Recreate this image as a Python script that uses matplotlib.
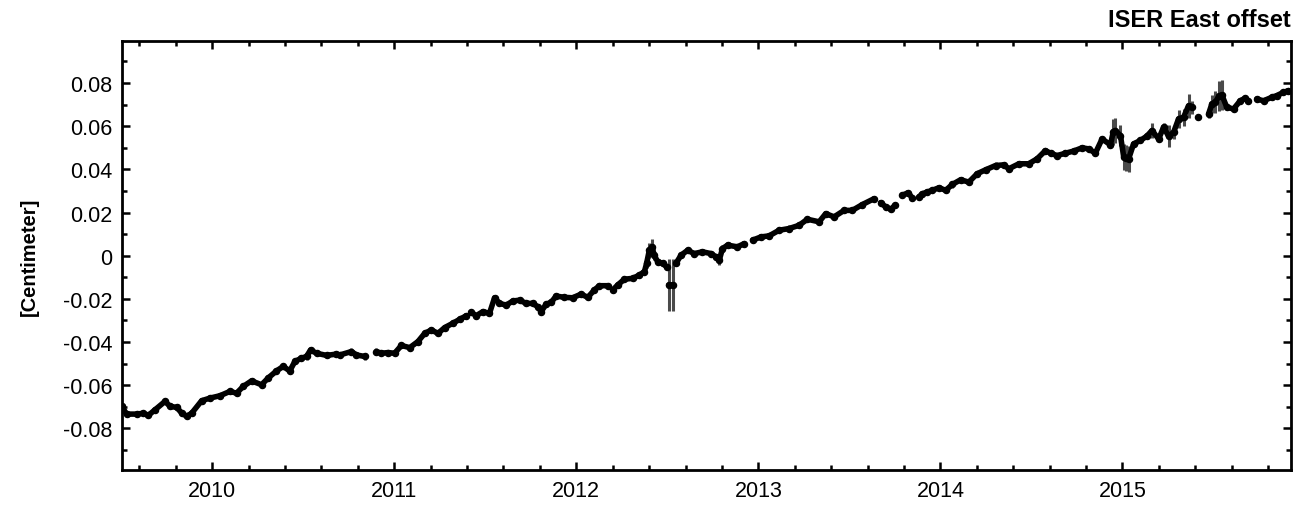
import numpy as np
import matplotlib
matplotlib.use("Agg")
import matplotlib.pyplot as plt
from matplotlib.ticker import FixedLocator, MultipleLocator

plt.rcParams['font.family'] = ['Liberation Sans', 'DejaVu Sans']
plt.rcParams['axes.unicode_minus'] = False

# ---- data (decimal year, offset, error) ----
years = [
    2009.503, 2009.530, 2009.585, 2009.622, 2009.649, 2009.686, 2009.741, 2009.768, 2009.805, 2009.832,
    2009.860, 2009.887, 2009.942, 2009.987, 2010.042, 2010.097, 2010.134, 2010.170, 2010.216, 2010.271,
    2010.307, 2010.353, 2010.390, 2010.426, 2010.454, 2010.490, 2010.518, 2010.540, 2010.573, 2010.628,
    2010.682, 2010.701, 2010.765, 2010.792, 2010.838,
    2010.902, 2010.929, 2010.965, 2011.002, 2011.039, 2011.085, 2011.130, 2011.167, 2011.204, 2011.240,
    2011.277, 2011.322, 2011.359, 2011.396,
    2011.423, 2011.450, 2011.487, 2011.523, 2011.551, 2011.578, 2011.615, 2011.651, 2011.688, 2011.725,
    2011.761, 2011.788, 2011.807, 2011.834, 2011.862, 2011.889, 2011.935, 2011.980, 2012.026, 2012.063,
    2012.099, 2012.127, 2012.172,
    2012.200, 2012.227, 2012.264, 2012.309, 2012.346, 2012.374, 2012.386, 2012.401, 2012.416, 2012.428,
    2012.447, 2012.474, 2012.496,
    2012.507, 2012.533,
    2012.547, 2012.575, 2012.611, 2012.648, 2012.693, 2012.739, 2012.767, 2012.785, 2012.803, 2012.831,
    2012.885, 2012.922,
    2012.968, 2013.014, 2013.059, 2013.114, 2013.169, 2013.224, 2013.269, 2013.334, 2013.370, 2013.416,
    2013.471, 2013.516, 2013.571, 2013.635,
    2013.672, 2013.699, 2013.727, 2013.750,
    2013.790, 2013.823, 2013.845,
    2013.882, 2013.900, 2013.928, 2013.955, 2013.992, 2014.029, 2014.065, 2014.111, 2014.156, 2014.202,
    2014.248, 2014.303, 2014.348, 2014.376, 2014.431, 2014.485, 2014.531, 2014.577, 2014.605, 2014.641,
    2014.687, 2014.732, 2014.778, 2014.815, 2014.851, 2014.888, 2014.934, 2014.950, 2014.961, 2014.989,
    2015.007, 2015.020, 2015.034, 2015.061, 2015.098, 2015.134, 2015.162, 2015.199, 2015.226, 2015.253,
    2015.281, 2015.308, 2015.336, 2015.363, 2015.381,
    2015.414,
    2015.473, 2015.491, 2015.510, 2015.530, 2015.546, 2015.573, 2015.610, 2015.647, 2015.674, 2015.692,
    2015.738, 2015.775, 2015.820, 2015.848, 2015.884, 2015.912,
]

offsets = [
    -0.0698, -0.0734, -0.0734, -0.0730, -0.0740, -0.0714, -0.0675, -0.0698, -0.0703, -0.0729,
    -0.0744, -0.0730, -0.0672, -0.0660, -0.0649, -0.0629, -0.0637, -0.0606, -0.0580, -0.0598,
    -0.0567, -0.0534, -0.0513, -0.0534, -0.0490, -0.0475, -0.0467, -0.0437, -0.0452, -0.0462,
    -0.0456, -0.0460, -0.0444, -0.0460, -0.0467,
    -0.0444, -0.0452, -0.0449, -0.0452, -0.0416, -0.0426, -0.0398, -0.0360, -0.0344, -0.0360,
    -0.0333, -0.0313, -0.0295, -0.0278,
    -0.0262, -0.0278, -0.0259, -0.0267, -0.0195, -0.0221, -0.0229, -0.0210, -0.0206, -0.0221,
    -0.0221, -0.0236, -0.0259, -0.0225, -0.0216, -0.0187, -0.0193, -0.0195, -0.0178, -0.0193,
    -0.0159, -0.0139, -0.0139,
    -0.0159, -0.0136, -0.0109, -0.0105, -0.0090, -0.0074, -0.0036, 0.0025, 0.0041, 0.0002,
    -0.0028, -0.0036, -0.0051,
    -0.0136, -0.0136,
    -0.0036, 0.0002, 0.0025, 0.0010, 0.0018, 0.0010, -0.0005, -0.0021, 0.0033, 0.0049,
    0.0041, 0.0056,
    0.0072, 0.0087, 0.0092, 0.0118, 0.0126, 0.0141, 0.0169, 0.0157, 0.0195, 0.0180,
    0.0210, 0.0210, 0.0237, 0.0264,
    0.0246, 0.0226, 0.0215, 0.0233,
    0.0280, 0.0292, 0.0268,
    0.0272, 0.0287, 0.0295, 0.0303, 0.0315, 0.0303, 0.0330, 0.0352, 0.0341, 0.0380,
    0.0398, 0.0418, 0.0421, 0.0403, 0.0426, 0.0426, 0.0449, 0.0487, 0.0475, 0.0464,
    0.0475, 0.0485, 0.0500, 0.0495, 0.0475, 0.0541, 0.0514, 0.0575, 0.0580, 0.0557,
    0.0457, 0.0452, 0.0449, 0.0518, 0.0534, 0.0554, 0.0580, 0.0541, 0.0596, 0.0554,
    0.0572, 0.0634, 0.0642, 0.0695, 0.0688,
    0.0642,
    0.0657, 0.0703, 0.0711, 0.0740, 0.0745, 0.0688, 0.0680, 0.0718, 0.0730, 0.0718,
    0.0726, 0.0718, 0.0734, 0.0742, 0.0757, 0.0765,
]

# typical uncertainty, and the larger ones
base_error = 0.0014
large_errors = {
    2012.386: 0.0020, 2012.401: 0.0035, 2012.416: 0.0035, 2012.428: 0.0020,
    2012.507: 0.0122, 2012.533: 0.0120,
    2012.785: 0.0023, 2012.803: 0.0015,
    2014.950: 0.0060, 2014.961: 0.0060, 2014.989: 0.0050,
    2015.007: 0.0060, 2015.020: 0.0060, 2015.034: 0.0060,
    2015.162: 0.0035, 2015.226: 0.0020, 2015.253: 0.0050, 2015.281: 0.0030,
    2015.308: 0.0040, 2015.336: 0.0040, 2015.363: 0.0055, 2015.381: 0.0030,
    2015.473: 0.0020, 2015.491: 0.0040, 2015.510: 0.0050, 2015.530: 0.0070,
    2015.546: 0.0070,
}

# first epochs after a data gap
segment_starts = [2010.902, 2011.423, 2012.200, 2012.507, 2012.547, 2012.968,
                  2013.672, 2013.790, 2013.882, 2015.414, 2015.473, 2015.738]

xtick_values = [2010, 2011, 2012, 2013, 2014, 2015]
xtick_labels = ['2010', '2011', '2012', '2013', '2014', '2015']
ytick_values = [-0.08, -0.06, -0.04, -0.02, 0.0, 0.02, 0.04, 0.06, 0.08]
ytick_labels = ['-0.08', '-0.06', '-0.04', '-0.02', '0', '0.02', '0.04', '0.06', '0.08']

title_text = 'ISER East offset'
ylabel_text = '[Centimeter]'

# ---- build arrays ----
t = np.array(years)
v = np.array(offsets)
e = np.array([large_errors.get(y, base_error) for y in years])

line_t, line_v = [], []
for yi, vi in zip(years, offsets):
    if yi in segment_starts:
        line_t.append(np.nan)
        line_v.append(np.nan)
    line_t.append(yi)
    line_v.append(vi)

# ---- figure ----
fig = plt.figure(figsize=(13.02, 5.06), dpi=100)
ax = fig.add_axes([0.0935, 0.0692, 0.8978, 0.8478])

ax.errorbar(t, v, yerr=e, fmt='none', ecolor='#4a4a4a', elinewidth=2.2, capsize=0, zorder=2)
ax.plot(line_t, line_v, color='black', linewidth=4.0, solid_capstyle='round', zorder=3)
ax.plot(t, v, 'o', color='black', markersize=4.4, zorder=4)

ax.set_xlim(2009.503, 2015.924)
ax.set_ylim(-0.0993, 0.0995)

ax.xaxis.set_major_locator(FixedLocator(xtick_values))
ax.set_xticklabels(xtick_labels)
ax.xaxis.set_minor_locator(MultipleLocator(0.2))
ax.yaxis.set_major_locator(FixedLocator(ytick_values))
ax.set_yticklabels(ytick_labels)
ax.yaxis.set_minor_locator(MultipleLocator(0.01))

ax.tick_params(which='both', direction='in', top=True, right=True, width=1.8, labelsize=15.5, colors='black')
ax.tick_params(which='major', length=6, pad=7)
ax.tick_params(which='minor', length=3.5)
for s in ax.spines.values():
    s.set_linewidth(2.0)

ax.set_title(title_text, loc='right', fontweight='bold', fontsize=17, pad=11)
ax.set_ylabel(ylabel_text, fontweight='bold', fontsize=14.5, labelpad=17)

fig.savefig('out.png', dpi=100)
